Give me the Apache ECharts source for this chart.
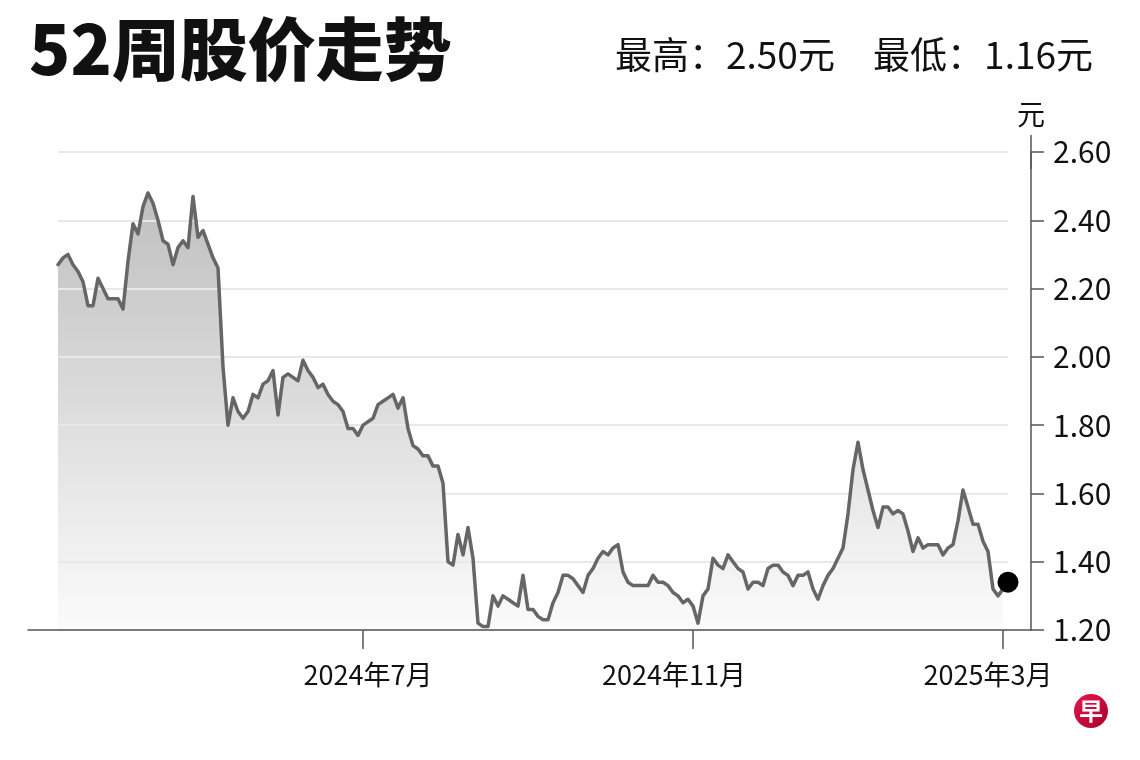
<!DOCTYPE html>
<html>
<head>
<meta charset="utf-8">
<script src="https://cdn.jsdelivr.net/npm/echarts@6/dist/echarts.min.js"></script>
<style>
html,body{margin:0;padding:0;background:#fff;}
#chart{width:1140px;height:760px;}
</style>
</head>
<body>
<div id="chart"></div>
<script>
// ---- data ----
var titleText = '52周股价走势';
var highText = '最高：2.50元';
var lowText = '最低：1.16元';
var unitText = '元';

var prices = [
  2.27, 2.29, 2.30, 2.27, 2.25, 2.22, 2.15, 2.15, 2.23, 2.20,
  2.17, 2.17, 2.17, 2.14, 2.28, 2.39, 2.36, 2.44, 2.48, 2.45,
  2.40, 2.34, 2.33, 2.27, 2.32, 2.34, 2.32, 2.47, 2.35, 2.37,
  2.33, 2.29, 2.26, 1.97, 1.80, 1.88, 1.84, 1.82, 1.84, 1.89,
  1.88, 1.92, 1.93, 1.96, 1.83, 1.94, 1.95, 1.94, 1.93, 1.99,
  1.96, 1.94, 1.91, 1.92, 1.89, 1.87, 1.86, 1.84, 1.79, 1.79,
  1.77, 1.80, 1.81, 1.82, 1.86, 1.87, 1.88, 1.89, 1.85, 1.88,
  1.79, 1.74, 1.73, 1.71, 1.71, 1.68, 1.68, 1.63, 1.40, 1.39,
  1.48, 1.42, 1.50, 1.41, 1.22, 1.21, 1.21, 1.30, 1.27, 1.30,
  1.29, 1.28, 1.27, 1.36, 1.26, 1.26, 1.24, 1.23, 1.23, 1.28,
  1.31, 1.36, 1.36, 1.35, 1.33, 1.31, 1.36, 1.38, 1.41, 1.43,
  1.42, 1.44, 1.45, 1.37, 1.34, 1.33, 1.33, 1.33, 1.33, 1.36,
  1.34, 1.34, 1.33, 1.31, 1.30, 1.28, 1.29, 1.27, 1.22, 1.30,
  1.32, 1.41, 1.39, 1.38, 1.42, 1.40, 1.38, 1.37, 1.32, 1.34,
  1.34, 1.33, 1.38, 1.39, 1.39, 1.37, 1.36, 1.33, 1.36, 1.36,
  1.37, 1.32, 1.29, 1.33, 1.36, 1.38, 1.41, 1.44, 1.54, 1.67,
  1.75, 1.67, 1.61, 1.55, 1.50, 1.56, 1.56, 1.54, 1.55, 1.54,
  1.49, 1.43, 1.47, 1.44, 1.45, 1.45, 1.45, 1.42, 1.44, 1.45,
  1.52, 1.61, 1.56, 1.51, 1.51, 1.46, 1.43, 1.32, 1.30, 1.32
];
var lastPrice = 1.34;

var tickLabels = ['2024年7月', '2024年11月', '2025年3月'];
var tickIndex = [61, 127, 189];

var yMin = 1.2, yMax = 2.6, yStep = 0.2;

// ---- build chart ----
var categories = [];
for (var i = 0; i <= prices.length; i++) categories.push(String(i));
var dotIndex = prices.length;

var FONT = 'Noto Sans CJK SC';
var labelRich = {
  s0: { fontSize: 27, color: '#111', fontFamily: FONT, padding: [0, 0, 0, 10] },
  s1: { fontSize: 27, color: '#111', fontFamily: FONT, padding: [0, 38, 0, 0] },
  s2: { fontSize: 27, color: '#111', fontFamily: FONT, padding: [0, 30, 0, 0] }
};
function isTick(idx) { return tickIndex.indexOf(idx) >= 0; }

var chart = echarts.init(document.getElementById('chart'), null, { renderer: 'canvas' });
var option = {
  backgroundColor: '#ffffff',
  animation: false,
  textStyle: { fontFamily: FONT },
  title: [
    { text: titleText, left: 24, top: 10,
      textStyle: { fontSize: 68, fontWeight: 900, color: '#111', fontFamily: FONT } },
    { text: highText, left: 610, top: 31,
      textStyle: { fontSize: 37, fontWeight: 'normal', color: '#111', fontFamily: FONT } },
    { text: lowText, right: 42, top: 31,
      textStyle: { fontSize: 37, fontWeight: 'normal', color: '#111', fontFamily: FONT } }
  ],
  grid: [
    { left: 58, right: 132, top: 152, bottom: 130 },
    { left: 28, right: 109, top: 152, bottom: 130 }
  ],
  xAxis: [
    { type: 'category', gridIndex: 0, data: categories, boundaryGap: false, z: 6,
      axisLine: { show: false },
      axisTick: { show: true, interval: function (idx) { return isTick(idx); },
        length: 19, lineStyle: { color: '#555', width: 1.5 } },
      axisLabel: { show: true, interval: function (idx) { return isTick(idx); },
        margin: 31, fontSize: 27, color: '#111',
        formatter: function (v, idx) {
          var k = tickIndex.indexOf(idx);
          return k >= 0 ? '{s' + k + '|' + tickLabels[k] + '}' : '';
        },
        rich: labelRich },
      splitLine: { show: false } },
    { type: 'value', gridIndex: 1, min: 0, max: 1, z: 6,
      axisLine: { show: true, onZero: false, lineStyle: { color: '#555', width: 1.5 } },
      axisTick: { show: false }, axisLabel: { show: false }, splitLine: { show: false } }
  ],
  yAxis: [
    { type: 'value', gridIndex: 0, min: yMin, max: yMax, interval: yStep, z: 2,
      axisLine: { show: false }, axisTick: { show: false }, axisLabel: { show: false },
      splitLine: { show: true, lineStyle: { color: '#e8e8e8', width: 2 } } },
    { type: 'value', gridIndex: 1, position: 'right', min: yMin, max: yMax, interval: yStep, z: 6,
      name: unitText, nameLocation: 'end', nameGap: 24,
      nameTextStyle: { fontSize: 28, color: '#111', align: 'center', fontFamily: FONT },
      axisLine: { show: true, onZero: false, lineStyle: { color: '#555', width: 1.5 },
        symbol: ['none', 'rect'], symbolSize: [1.5, 34] },
      axisTick: { show: true, inside: false, length: 13, lineStyle: { color: '#555', width: 1.5 } },
      axisLabel: { show: true, margin: 22, fontSize: 30, color: '#111',
        formatter: function (v) { return v.toFixed(2); } },
      splitLine: { show: false } }
  ],
  series: [
    { type: 'line', name: 'area', xAxisIndex: 0, yAxisIndex: 0, data: prices,
      showSymbol: false, silent: true, z: 1,
      lineStyle: { width: 0, opacity: 0 },
      areaStyle: { origin: 'start', opacity: 1,
        color: new echarts.graphic.LinearGradient(0, 0, 0, 1, [
          { offset: 0, color: '#bfbfbf' },
          { offset: 1, color: '#fbfbfb' }
        ]) } },
    { type: 'line', name: 'price', xAxisIndex: 0, yAxisIndex: 0, data: prices,
      showSymbol: false, z: 3,
      lineStyle: { color: '#666666', width: 3.5, join: 'round', cap: 'round' } },
    { type: 'scatter', name: 'last', xAxisIndex: 0, yAxisIndex: 0,
      data: [[dotIndex, lastPrice]], symbolSize: 21, z: 4,
      itemStyle: { color: '#000', opacity: 1 } }
  ],
  graphic: [
    { type: 'group', right: 32, bottom: 32, children: [
      { type: 'circle', shape: { cx: 17, cy: 17, r: 17 },
        style: { fill: new echarts.graphic.LinearGradient(0, 0, 1, 1, [
          { offset: 0, color: '#e8174f' }, { offset: 1, color: '#a8002a' }]) } },
      { type: 'text', x: 17, y: 17,
        style: { text: '早', fill: '#fff', fontSize: 24, fontWeight: 'bold',
          fontFamily: FONT, align: 'center', verticalAlign: 'middle' } }
    ] }
  ]
};
chart.setOption(option);
</script>
</body>
</html>
